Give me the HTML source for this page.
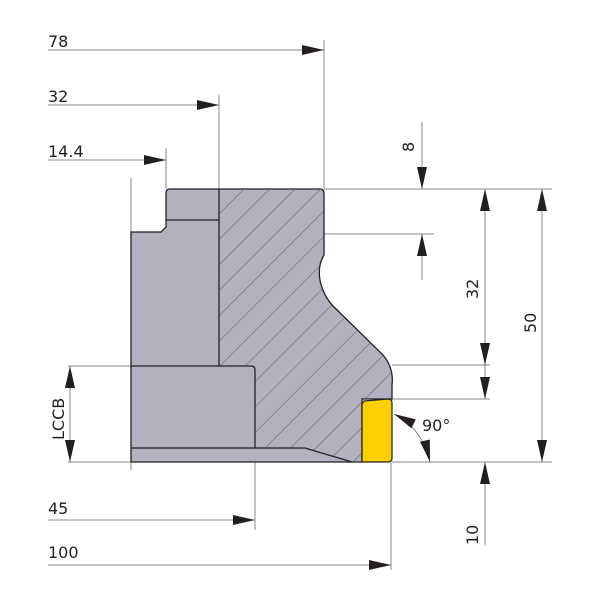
<!DOCTYPE html>
<html><head><style>body{margin:0;background:#fff}svg{display:block}</style></head><body>
<svg width="600" height="600" viewBox="0 0 600 600" xmlns="http://www.w3.org/2000/svg" font-family="DejaVu Sans, Liberation Sans, sans-serif" font-size="16" fill="#231f20">
<defs>
<pattern id="h" patternUnits="userSpaceOnUse" width="18" height="18" patternTransform="rotate(45)">
<line x1="0" y1="0" x2="0" y2="18" stroke="#4a4850" stroke-width="0.8"/>
</pattern>
<marker id="a" viewBox="0 0 22 10" refX="22" refY="5" markerWidth="22" markerHeight="10" markerUnits="userSpaceOnUse" orient="auto-start-reverse"><path d="M0,0 L22,5 L0,10 Z" fill="#231f20"/></marker>
</defs>
<g stroke="#8a8a8a" stroke-width="1" fill="none">
<line x1="324" y1="40" x2="324" y2="189"/>
<line x1="219" y1="95" x2="219" y2="189"/>
<line x1="166" y1="148" x2="166" y2="189"/>
<line x1="131" y1="178" x2="131" y2="470"/>
<line x1="324" y1="189" x2="552" y2="189"/>
<line x1="324" y1="234" x2="434" y2="234"/>
<line x1="392" y1="365" x2="490" y2="365"/>
<line x1="392" y1="399" x2="490" y2="399"/>
<line x1="392" y1="462" x2="552" y2="462"/>
<line x1="68" y1="366" x2="131" y2="366"/>
<line x1="68" y1="462" x2="131" y2="462"/>
<line x1="255" y1="448" x2="255" y2="530"/>
<line x1="391" y1="462" x2="391" y2="570"/>
<line x1="48" y1="50" x2="324" y2="50" marker-end="url(#a)"/>
<line x1="48" y1="105" x2="219" y2="105" marker-end="url(#a)"/>
<line x1="48" y1="160" x2="166" y2="160" marker-end="url(#a)"/>
<line x1="48" y1="520" x2="255" y2="520" marker-end="url(#a)"/>
<line x1="48" y1="565" x2="391" y2="565" marker-end="url(#a)"/>
<line x1="422" y1="122" x2="422" y2="189" marker-end="url(#a)"/>
<line x1="422" y1="280" x2="422" y2="234" marker-end="url(#a)"/>
<line x1="485" y1="189" x2="485" y2="365" marker-start="url(#a)" marker-end="url(#a)"/>
<line x1="485" y1="365" x2="485" y2="399" marker-end="url(#a)"/>
<line x1="485" y1="545" x2="485" y2="462" marker-end="url(#a)"/>
<line x1="542" y1="189" x2="542" y2="462" marker-start="url(#a)" marker-end="url(#a)"/>
<line x1="70" y1="366" x2="70" y2="462" marker-start="url(#a)" marker-end="url(#a)"/>
<path d="M394,414 Q422,428 430,462" marker-start="url(#a)" marker-end="url(#a)"/>
</g>
<path d="M131,232 L161,232 L166,227 L166,193 Q166,189 170,189 L320,189 Q324,189 324,194 L324,255 C316,268 318,288 332,305 L383,355 Q394,368 392,385 L392,399 L362,399 L362,462 L131,462 Z" fill="#b3b1c0" stroke="#231f20" stroke-width="1.3"/>
<path d="M219,189 L320,189 Q324,189 324,194 L324,255 C316,268 318,288 332,305 L383,355 Q394,368 392,385 L392,399 L362,399 L362,462 L352,462 L305,448 L255,448 L255,370 Q255,366 251,366 L219,366 Z" fill="url(#h)" stroke="none"/>
<g stroke="#231f20" stroke-width="1.3" fill="none">
<path d="M219,189 L219,366"/>
<path d="M131,366 L251,366 Q255,366 255,370 L255,448"/>
<path d="M166,220 L219,220"/>
<path d="M131,448 L305,448 L352,462"/>
</g>
<path d="M364,401 L388,399 Q392,399 392,403 L392,458 Q392,462 388,462 L362,462 L362,404 Z" fill="#fccf00" stroke="#231f20" stroke-width="1.2"/>
<text x="48" y="47">78</text>
<text x="48" y="102">32</text>
<text x="48" y="157">14.4</text>
<text x="48" y="514">45</text>
<text x="48" y="558">100</text>
<text x="422" y="431">90°</text>
<text transform="translate(414,152) rotate(-90)">8</text>
<text transform="translate(478,299) rotate(-90)">32</text>
<text transform="translate(536,333) rotate(-90)">50</text>
<text transform="translate(478,545) rotate(-90)">10</text>
<text transform="translate(64,440) rotate(-90)">LCCB</text>
</svg>
</body></html>
